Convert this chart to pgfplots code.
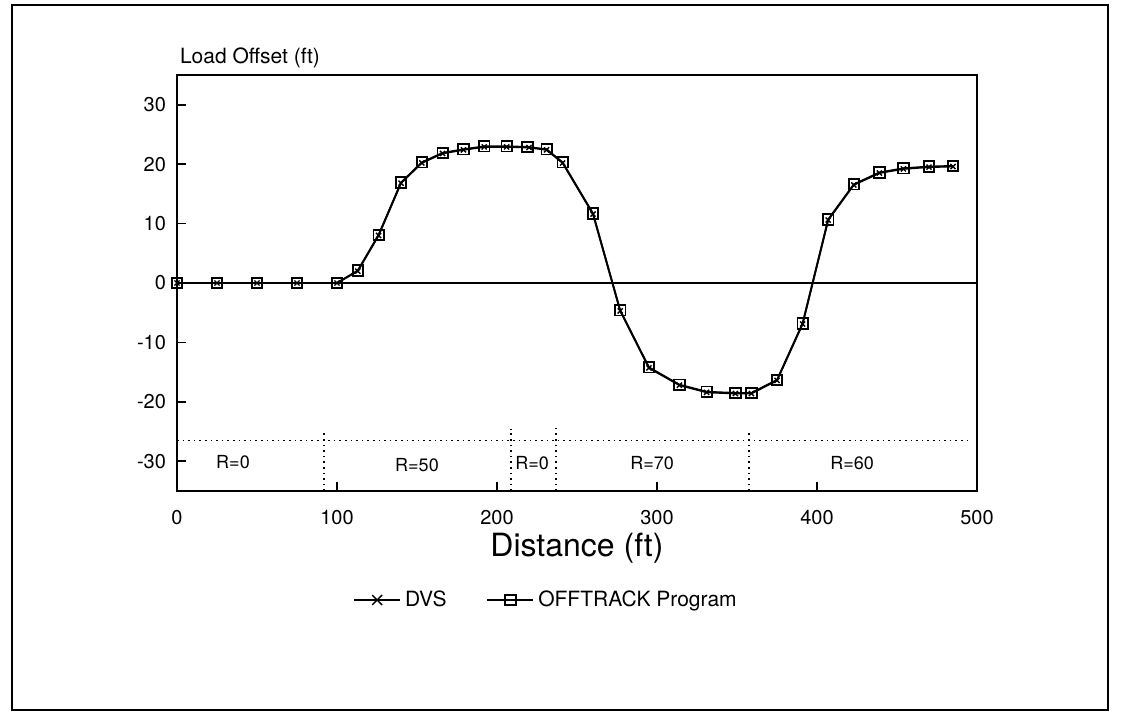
\documentclass[border=0pt]{standalone}
\usepackage{fontspec}
\setmainfont{TeX Gyre Heros}
\usepackage{pgfplots}
\pgfplotsset{compat=1.18}

% OFFTRACK program output (distance ft, offset ft)
\pgfplotstableread{
x y
0 0
25 0
50 0
75 0
100 0
113 2.1
126 8.1
140 16.9
153 20.3
166 21.9
179 22.5
192 23.0
206 23.0
219 22.9
231 22.5
241 20.3
260 11.7
277 -4.6
295 -14.2
314 -17.1
331 -18.3
349 -18.5
359 -18.5
375 -16.3
391 -6.8
407 10.7
423 16.6
439 18.6
454 19.3
470 19.6
485 19.7
}\offtrack

% DVS measurements
\pgfplotstableread{
x y
0 0
25 0
50 0
75 0
100 0
113 2.0
126 8.0
140 16.8
153 20.2
166 21.8
179 22.4
192 22.9
206 22.9
220 22.8
231 22.4
241 20.2
260 11.6
277 -4.7
295 -14.3
314 -17.2
331 -18.4
349 -18.6
359 -18.6
375 -16.4
391 -6.9
407 10.6
423 16.5
439 18.5
454 19.2
470 19.5
485 19.6
}\dvs

\begin{document}
\begin{tikzpicture}
\useasboundingbox (0pt,0pt) rectangle (561.5pt,357.5pt);
\draw[line width=1pt] (6pt,2.5pt) rectangle (554pt,355pt);
\node[font=\fontsize{10.5}{12}\selectfont] at (125pt,328.5pt) {Load Offset (ft)};
\begin{axis}[
    at={(88.5pt,112pt)}, anchor=south west,
    scale only axis, width=400pt, height=208pt,
    xmin=0, xmax=500, ymin=-35, ymax=35,
    xtick={0,100,...,500}, ytick={-30,-20,...,30},
    xtick pos=bottom, ytick pos=left, tick align=inside,
    major tick length=4.5pt,
    axis line style={line width=0.8pt},
    tick style={line width=0.8pt, black},
    /pgf/number format/assume math mode=true,
    tick label style={font=\fontsize{10}{12}\selectfont},
    xticklabel style={yshift=-6pt},
    yticklabel style={xshift=-2pt},
    xlabel={Distance (ft)},
    xlabel style={font=\fontsize{16}{18}\selectfont, at={(axis description cs:0.5,0)}, anchor=center, yshift=-28.5pt},
    legend columns=2,
    legend style={draw=none, at={(axis description cs:0.4625,-0.262)}, anchor=center,
        font=\fontsize{10.5}{12}\selectfont,
        /tikz/every even column/.append style={column sep=18pt}},
    legend image code/.code={\draw[mark repeat=2,mark phase=2] plot coordinates {(0pt,0pt) (11.5pt,0pt) (23pt,0pt)};},
]
\addplot[black, line width=0.9pt, mark=x, mark size=1.8pt, mark options={solid, line width=0.7pt},
    legend image post style={mark size=3.5pt}] table[x=x,y=y] {\dvs};
\addlegendentry{DVS}
\addplot[black, line width=0.9pt, mark=square, mark size=2.6pt, mark options={solid, line width=0.9pt}] table[x=x,y=y] {\offtrack};
\addlegendentry{OFFTRACK Program}
% zero line
\addplot[black, line width=0.7pt, forget plot] coordinates {(0,0) (500,0)};
% curve-radius zones
\addplot[black, dotted, line width=0.8pt, forget plot] coordinates {(0,-26.5) (494,-26.5)};
\addplot[black, dotted, line width=0.8pt, forget plot] coordinates {(92,-35) (92,-24.7)};
\addplot[black, dotted, line width=0.8pt, forget plot] coordinates {(208.6,-35) (208.6,-24.6)};
\addplot[black, dotted, line width=0.8pt, forget plot] coordinates {(236.7,-35) (236.7,-24.4)};
\addplot[black, dotted, line width=0.8pt, forget plot] coordinates {(357.5,-35) (357.5,-25)};
\node[font=\fontsize{9}{11}\selectfont] at (axis cs:35,-30.2) {R=0};
\node[font=\fontsize{9}{11}\selectfont] at (axis cs:150,-30.7) {R=50};
\node[font=\fontsize{9}{11}\selectfont] at (axis cs:222,-30.3) {R=0};
\node[font=\fontsize{9}{11}\selectfont] at (axis cs:297,-30.3) {R=70};
\node[font=\fontsize{9}{11}\selectfont] at (axis cs:422,-30.3) {R=60};
\end{axis}
\end{tikzpicture}
\end{document}
